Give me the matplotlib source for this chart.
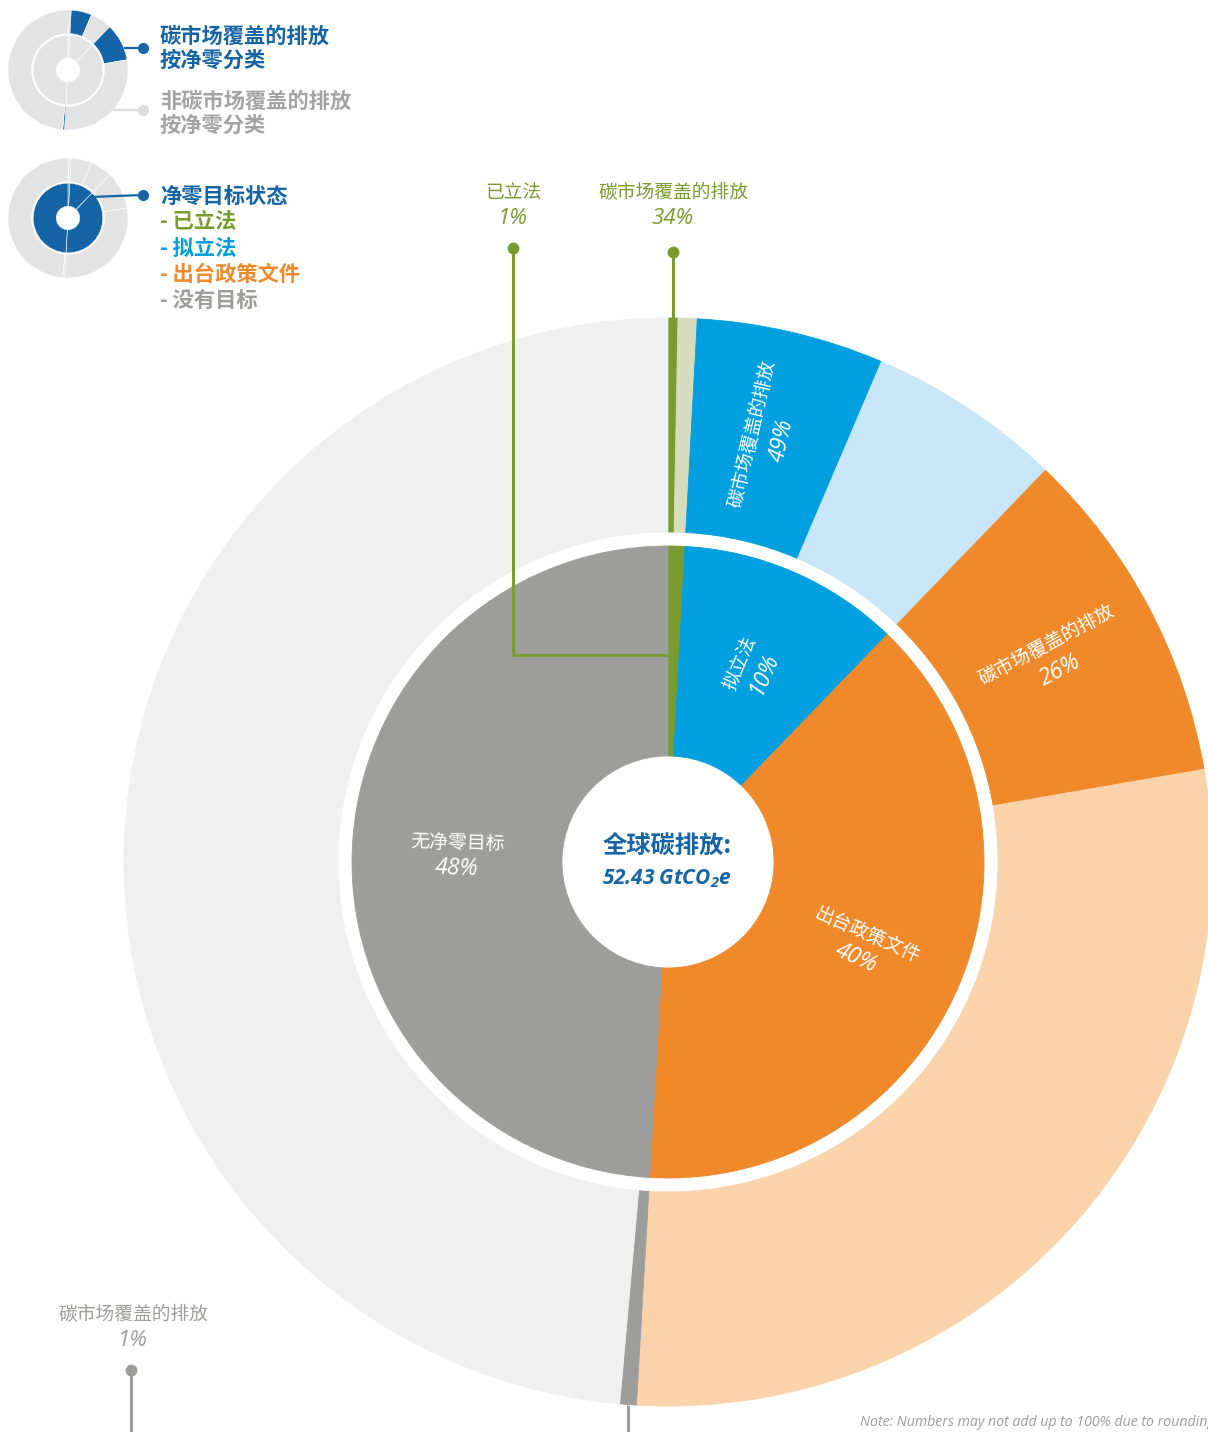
#!/usr/bin/env python3

import numpy as np
import matplotlib
matplotlib.use("Agg")
from matplotlib import pyplot as plt

W, H = 1208, 1432

# net-zero status of global emissions (GtCO2e)
status = ["已立法", "拟立法", "出台政策文件", "无净零目标"]
status_gt = [0.45, 5.95, 20.30, 25.73]
status_pct = ["1%", "10%", "40%", "48%"]
# share of each status group covered by a carbon market (%)
covered_pct = [34, 49, 26, 1]
covered_label = "碳市场覆盖的排放"
total_title = "全球碳排放:"
total_value = "52.43 GtCO$_2$e"

legend_a = ["碳市场覆盖的排放", "按净零分类"]
legend_b = ["非碳市场覆盖的排放", "按净零分类"]
legend_c = ["净零目标状态", "- 已立法", "- 拟立法", "- 出台政策文件", "- 没有目标"]
note = "Note: Numbers may not add up to 100% due to rounding"

DARK = ["#7a9b30", "#009fe0", "#f0892a", "#9d9d9c"]
LIGHT = ["#d8dcbf", "#c8e6f8", "#fbd3aa", "#f0f0f0"]
NAVY = "#1464a6"
ICON_GREY = "#e3e3e3"
TEXT_GREY = "#9d9d9c"

CJK = ["Noto Sans CJK SC", "DejaVu Sans"]
LAT = ["Open Sans", "DejaVu Sans"]

plt.rcParams["mathtext.fontset"] = "custom"
plt.rcParams["mathtext.rm"] = "Open Sans:italic:bold"
plt.rcParams["mathtext.it"] = "Open Sans:italic:bold"


def P(x, y):
	# pixel position (origin top-left) -> data coords
	return x, H - y


def polar(center, r, theta_deg):
	t = np.radians(theta_deg)
	return center[0] + r * np.sin(t), center[1] + r * np.cos(t)


def outer_values():
	vals, cols = [], []
	for gt, cov, d, l in zip(status_gt, covered_pct, DARK, LIGHT):
		vals += [gt * cov / 100.0, gt * (1 - cov / 100.0)]
		cols += [d, l]
	return vals, cols


def draw_donut(ax, center, scale, inner_cols, outer_cols, edge=None, lw=0.0):
	vals, _ = outer_values()
	r_out, w_out = 544 * scale, 214 * scale
	r_in, w_in = 316 * scale, 210 * scale
	wo, _ = ax.pie(vals, radius=r_out, center=center, startangle=90, counterclock=False,
			colors=outer_cols, wedgeprops=dict(width=w_out, linewidth=lw))
	wi, _ = ax.pie(status_gt, radius=r_in, center=center, startangle=90, counterclock=False,
			colors=inner_cols, wedgeprops=dict(width=w_in, linewidth=lw))
	for w in wo + wi:
		if edge is None:
			w.set_edgecolor(w.get_facecolor())
			w.set_linewidth(0.6)
		else:
			w.set_edgecolor(edge)
	return wo, wi


def seg_label(ax, center, r, theta, line1, line2, size1, size2, gap):
	rot = 90 - theta
	if rot < -90:
		rot += 180
	x, y = polar(center, r, theta)
	tr = np.radians(rot)
	down = np.array([np.sin(tr), -np.cos(tr)])
	p1 = np.array([x, y]) - down * gap / 2
	p2 = np.array([x, y]) + down * gap / 2
	ax.text(p1[0], p1[1], line1, family=CJK, fontsize=size1, color="white",
			rotation=rot, rotation_mode="anchor", ha="center", va="center")
	ax.text(p2[0], p2[1], line2, family=LAT, style="italic", fontsize=size2, color="white",
			rotation=rot, rotation_mode="anchor", ha="center", va="center")


def plot_chart(out_file):
	fig = plt.figure(figsize=(W / 100, H / 100), dpi=100)
	ax = fig.add_axes([0, 0, 1, 1])

	total = float(sum(status_gt))
	fr = np.array(status_gt) / total
	cum = np.concatenate([[0], np.cumsum(fr)])
	ovals, ocols = outer_values()
	ofr = np.array(ovals) / total
	ocum = np.concatenate([[0], np.cumsum(ofr)])

	C = P(668, 862)
	draw_donut(ax, C, 1.0, DARK, ocols)

	# labels inside segments
	for i in range(1, 4):
		theta = 360 * (cum[i] + cum[i + 1]) / 2
		seg_label(ax, C, 211, theta, status[i], status_pct[i], 13.6, 16.5, 26)
	for i in (1, 2):
		theta = 360 * (ocum[2 * i] + ocum[2 * i + 1]) / 2
		seg_label(ax, C, 436, theta, covered_label, "%d%%" % covered_pct[i], 13.6, 16.5, 30)

	# centre text
	ax.text(*P(667, 846), total_title, family=CJK, weight="bold", fontsize=17.5, color=NAVY,
			ha="center", va="center")
	ax.text(*P(667, 879), total_value, family=LAT, style="italic", weight="bold", fontsize=15,
			color=NAVY, ha="center", va="center")

	green = DARK[0]
	# leader: 已立法 (inner ring)
	th_g = 360 * (cum[0] + cum[1]) / 2
	xg, yg = polar(C, 207, th_g)
	lx = 513
	ax.plot([lx, lx, C[0]], [P(0, 248)[1], yg, yg], color=green, lw=2.2, solid_capstyle="butt")
	ax.plot(lx, P(0, 248)[1], "o", color=green, ms=7.5)
	ax.text(*P(lx, 193), status[0], family=CJK, fontsize=13.5, color=green, ha="center", va="center")
	ax.text(*P(lx, 218), status_pct[0], family=LAT, style="italic", fontsize=16, color=green,
			ha="center", va="center")

	# leader: green covered share (outer ring)
	th_gc = 360 * (ocum[0] + ocum[1]) / 2
	xc, yc = polar(C, 544, th_gc)
	ax.plot([xc, xc], [P(0, 252)[1], yc], color=green, lw=2.2, solid_capstyle="butt")
	ax.plot(xc, P(0, 252)[1], "o", color=green, ms=7.5)
	ax.text(xc, P(0, 193)[1], covered_label, family=CJK, fontsize=13.5, color=green,
			ha="center", va="center")
	ax.text(xc, P(0, 218)[1], "%d%%" % covered_pct[0], family=LAT, style="italic", fontsize=16,
			color=green, ha="center", va="center")

	# leader: grey covered share (outer ring, bottom)
	th_nc = 360 * (ocum[6] + ocum[7]) / 2
	xn, yn = polar(C, 544, th_nc)
	ax.plot([xn, xn], [yn, 0], color=TEXT_GREY, lw=2.2, solid_capstyle="butt")
	ax.plot([131, 131], [P(0, 1370)[1], 0], color=TEXT_GREY, lw=2.2, solid_capstyle="butt")
	ax.plot(131, P(0, 1370)[1], "o", color=TEXT_GREY, ms=7.5)
	ax.text(*P(133, 1315), covered_label, family=CJK, fontsize=13.5, color=TEXT_GREY,
			ha="center", va="center")
	ax.text(*P(133, 1340), "%d%%" % covered_pct[3], family=LAT, style="italic", fontsize=16,
			color=TEXT_GREY, ha="center", va="center")

	# legend icons
	ic1 = P(68, 70)
	oc1 = [NAVY if k % 2 == 0 else ICON_GREY for k in range(len(ovals))]
	draw_donut(ax, ic1, 60 / 544, [ICON_GREY] * 4, oc1, edge="white", lw=0.4)
	ic2 = P(68, 218)
	draw_donut(ax, ic2, 60 / 544, [NAVY] * 4, [ICON_GREY] * len(ovals), edge="white", lw=0.4)

	ax.plot([125, 143], [P(0, 48)[1]] * 2, color=NAVY, lw=1.6)
	ax.plot(143, P(0, 48)[1], "o", color=NAVY, ms=7)
	ax.plot([114, 143], [P(0, 110)[1]] * 2, color="#dedede", lw=1.6)
	ax.plot(143, P(0, 110)[1], "o", color="#dedede", ms=7)
	ax.plot([90, 143], [P(0, 197)[1], P(0, 195)[1]], color=NAVY, lw=1.6)
	ax.plot(143, P(0, 195)[1], "o", color=NAVY, ms=7)

	for j, t in enumerate(legend_a):
		ax.text(*P(160, 36 + 24 * j), t, family=CJK, weight="bold", fontsize=15.3, color=NAVY,
				ha="left", va="center")
	for j, t in enumerate(legend_b):
		ax.text(*P(160, 101 + 24 * j), t, family=CJK, weight="bold", fontsize=15.3,
				color="#a3a3a3", ha="left", va="center")
	leg_cols = [NAVY, DARK[0], DARK[1], DARK[2], TEXT_GREY]
	for j, (t, c) in enumerate(zip(legend_c, leg_cols)):
		ax.text(*P(160, 196 + 26 * j), t, family=CJK, weight="bold", fontsize=15.3, color=c,
				ha="left", va="center")

	ax.text(*P(860, 1422), note, family=LAT, style="italic", fontsize=10.2, color=TEXT_GREY,
			ha="left", va="center")

	ax.set_xlim(0, W)
	ax.set_ylim(0, H)
	ax.set_aspect("equal")
	ax.axis("off")

	plt.savefig(out_file, dpi=100)
	plt.close()


if __name__ == "__main__":
	plot_chart("out.png")
